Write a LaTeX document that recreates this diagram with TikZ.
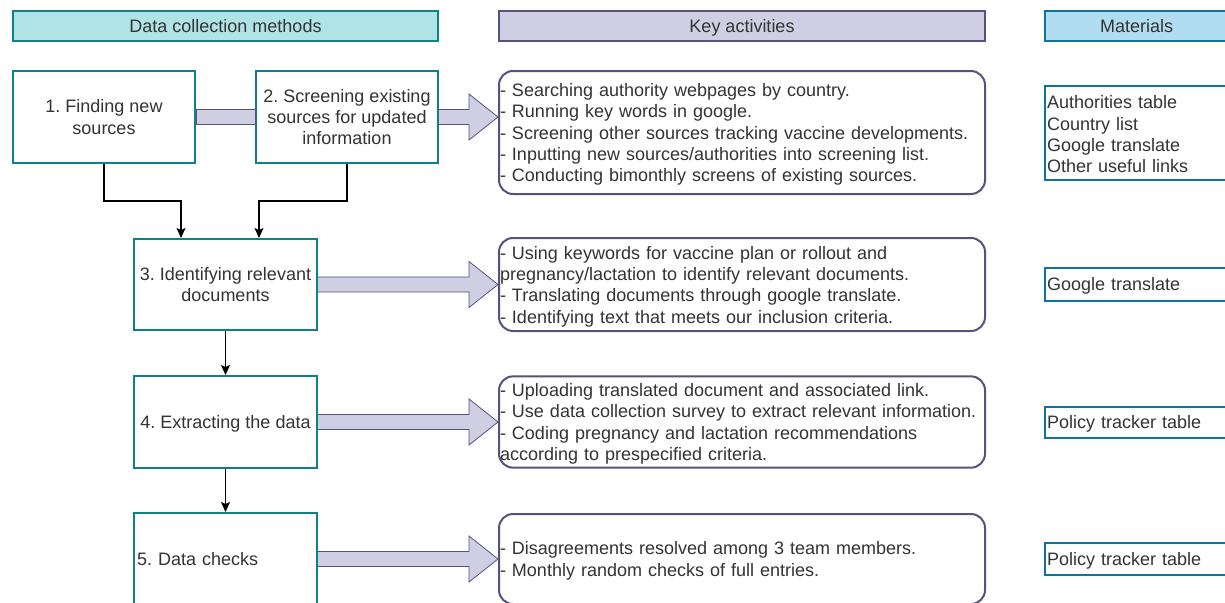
\documentclass[tikz,border=0pt]{standalone}
\usepackage{fontspec}
\setmainfont{Liberation Sans}
\frenchspacing
\usetikzlibrary{calc, positioning, arrows.meta}

\definecolor{tealline}{HTML}{0E8088}
\definecolor{tealfill}{HTML}{B0E3E6}
\definecolor{lavline}{HTML}{56517E}
\definecolor{lavfill}{HTML}{D0CEE2}
\definecolor{blueline}{HTML}{10739E}
\definecolor{bluefill}{HTML}{B1DDF0}
\definecolor{txt}{HTML}{333333}

\begin{document}
\begin{tikzpicture}[x=1pt, y=-1pt, >={Stealth[length=10pt,width=9pt,inset=2pt]}, font=\fontsize{18}{21.3}\selectfont, text=txt]
\tikzstyle{head}=[draw, line width=1.2pt, minimum height=30pt, inner sep=2pt, text height=13pt, text depth=0pt]
\tikzstyle{method}=[draw=tealline, line width=2pt, fill=white, minimum width=183pt, minimum height=92pt, inner sep=2pt, align=center, text depth=0pt]
\tikzstyle{act}=[draw=lavline, line width=2pt, fill=white, rounded corners=14pt, text width=484pt, inner xsep=1pt, align=left, execute at begin node={\rule{0pt}{17pt}}]
\tikzstyle{mat}=[draw=blueline, line width=2pt, fill=white, text width=180pt, inner xsep=2pt, inner ysep=1pt, align=left, execute at begin node={\rule{0pt}{16.5pt}}]
\tikzstyle{fat}=[draw=lavline, fill=lavfill, line width=0.8pt]
\tikzstyle{flow}=[->, line width=1.2pt, black]

\useasboundingbox (0,0) rectangle (1225,602);
\clip (0,0) rectangle (1225,602);

% column headers
\node[head, draw=tealline, fill=tealfill, minimum width=425pt] (h1) at (225.5,26) {Data collection methods};
\node[head, draw=lavline, fill=lavfill, minimum width=486pt]   (h2) at (742,26)   {Key activities};
\node[head, draw=blueline, fill=bluefill, minimum width=183pt] (h3) at (1136.5,26) {Materials};

% methods
\node[method, minimum width=182pt] (b1) at (104,117)  {1. Finding new\\sources};
\node[method, minimum width=182pt] (b2) at (347,117)  {2. Screening existing\\sources for updated\\information};
\node[method, minimum height=91pt] (b3) at (225.5,284.5) {3. Identifying relevant\\documents};
\node[method] (b4) [below=44pt of b3] {4. Extracting the data};
\node[method, text width=177pt, inner xsep=3pt, align=left] (b5) [below=43pt of b4] {5. Data checks};

% activities
\node[act, minimum height=123pt] (a1) at (742,132.5) {- Searching authority webpages by country.\\- Running key words in google.\\- Screening other sources tracking vaccine developments.\\- Inputting new sources/authorities into screening list.\\- Conducting bimonthly screens of existing sources.};
\node[act, minimum height=93pt] (a2) [right=180pt of b3] {- Using keywords for vaccine plan or rollout and\\pregnancy/lactation to identify relevant documents.\\- Translating documents through google translate.\\- Identifying text that meets our inclusion criteria.};
\node[act, minimum height=90pt] (a3) [right=180pt of b4] {- Uploading translated document and associated link.\\- Use data collection survey to extract relevant information.\\- Coding pregnancy and lactation recommendations\\according to prespecified criteria.};
\node[act, minimum height=90pt] (a4) [right=180pt of b5] {- Disagreements resolved among 3 team members.\\- Monthly random checks of full entries.};

% materials
\node[mat, minimum height=94pt] (m1) [right=58pt of a1] {Authorities table\\Country list\\Google translate\\Other useful links};
\node[mat, minimum height=33pt] (m2) [right=58pt of a2] {Google translate};
\node[mat, minimum height=31pt] (m3) [right=58pt of a3] {Policy tracker table};
\node[mat, minimum height=32pt] (m4) [right=58pt of a4] {Policy tracker table};

% links between steps
\draw[flow] (b1.south) -- ++(0,37) -| ($(b3.north west)+(48,0)$);
\draw[flow] (b2.south) -- ++(0,37) -| ($(b3.north west)+(126,0)$);
\draw[flow] (b3) -- (b4);
\draw[flow] (b4) -- (b5);

% fat arrows
\draw[fat] let \p1=(b1.east), \p2=(b2.west) in (\x1,\y1-7.5pt) rectangle (\x2,\y1+7.5pt);
\foreach \s/\t in {b2/a1, b3/a2, b4/a3, b5/a4}
  \draw[fat] let \p1=(\s.east), \p2=(\t.west) in
    (\x1,\y1+7.5pt) -- (\x2-29pt,\y1+7.5pt) -- (\x2-29pt,\y1+23pt) -- (\x2,\y1)
    -- (\x2-29pt,\y1-23pt) -- (\x2-29pt,\y1-7.5pt) -- (\x1,\y1-7.5pt);
\end{tikzpicture}
\end{document}
